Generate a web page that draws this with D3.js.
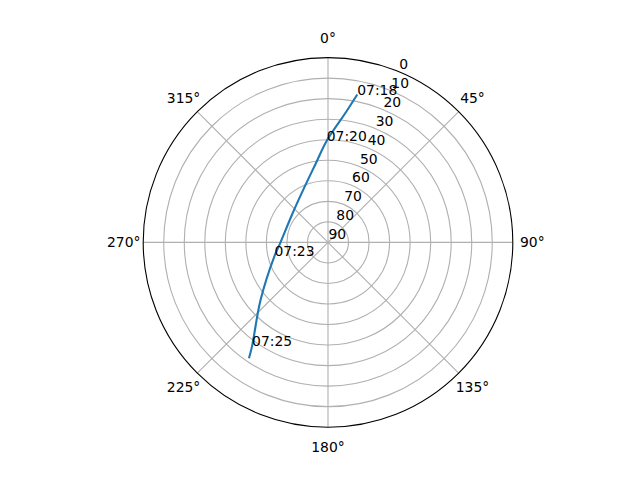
<!DOCTYPE html>
<html>
<head>
<meta charset="utf-8">
<script src="https://cdn.jsdelivr.net/npm/d3@7"></script>
<style>
  body { margin: 0; background: #fff; }
  text { font-family: "DejaVu Sans", sans-serif; font-size: 13.9px; fill: #000; }
</style>
</head>
<body>
<svg id="skyPlot"></svg>
<script>
// Satellite pass sky plot (azimuth / elevation)

// Pass track.
let azimuths   = [11.2, 7.9, 359.3, 351.2, 334.5, 309.2, 266.5, 255.7, 229.5, 216.2, 214.3];
let elevations = [16.6, 25.9, 40.5, 51.1, 61.8, 67.7, 66.2, 63.1, 46.8, 27.4, 21.7];
let timeLabels = ["07:18", "", "07:20", "", "", "", "", "07:23", "", "07:25", ""];

// Axis ticks.
let angleTicks = [0, 45, 90, 135, 180, 225, 270, 315];
let elevationTicks = [0, 10, 20, 30, 40, 50, 60, 70, 80, 90];
let radialLabelAngle = 22.5;

function drawSkyPlot(){
  let width = 640;
  let height = 480;
  let svg = d3.select('#skyPlot')
    .attr("width", width)
    .attr("height", height);

  // Same box matplotlib gives a polar subplot.
  let cx = 328;
  let cy = 242.4;
  let radius = 184.8;

  let g = svg.append('g')
    .attr("transform", `translate(${cx},${cy})`);

  // 90 at the centre, 0 on the rim.
  let rScale = d3.scaleLinear()
    .domain([90, 0])
    .range([0, radius]);
  let toRad = d => d * Math.PI / 180;

  // Elevation rings.
  g.selectAll('circle.ring')
    .data(elevationTicks.filter(d => d > 0 && d < 90))
    .join('circle')
    .attr("class", "ring")
    .attr("r", d => rScale(d))
    .attr("fill", "none")
    .attr("stroke", "#b0b0b0")
    .attr("stroke-width", 1.1);

  // Azimuth spokes.
  g.selectAll('line.spoke')
    .data(angleTicks)
    .join('line')
    .attr("class", "spoke")
    .attr("x1", 0)
    .attr("y1", 0)
    .attr("x2", d => rScale(0) * Math.sin(toRad(d)))
    .attr("y2", d => -rScale(0) * Math.cos(toRad(d)))
    .attr("stroke", "#b0b0b0")
    .attr("stroke-width", 1.1);

  // Outer rim.
  g.append('circle')
    .attr("r", rScale(0))
    .attr("fill", "none")
    .attr("stroke", "#000")
    .attr("stroke-width", 1.1);

  // Angle labels.
  let labelRadius = radius + 19.5;
  g.selectAll('text.angle')
    .data(angleTicks)
    .join('text')
    .attr("class", "angle")
    .attr("x", d => labelRadius * Math.sin(toRad(d)))
    .attr("y", d => -labelRadius * Math.cos(toRad(d)))
    .attr("dy", "0.36em")
    .attr("text-anchor", "middle")
    .text(d => d + "°");

  // Elevation labels along 22.5 degrees.
  g.selectAll('text.elev')
    .data(elevationTicks)
    .join('text')
    .attr("class", "elev")
    .attr("x", d => rScale(d) * Math.sin(toRad(radialLabelAngle)) + 0.5)
    .attr("y", d => -rScale(d) * Math.cos(toRad(radialLabelAngle)) - 3)
    .text(d => d);

  // Track.
  let track = azimuths.map((a, i) => ({az: a, el: elevations[i], label: timeLabels[i]}));
  let lineGenerator = d3.lineRadial()
    .angle(d => toRad(d.az))
    .radius(d => rScale(d.el))
    .curve(d3.curveCatmullRom.alpha(0.5));
  g.append('path')
    .datum(track)
    .attr("d", lineGenerator)
    .attr("fill", "none")
    .attr("stroke", "#1f77b4")
    .attr("stroke-width", 2.1);

  // Time labels, anchored at the point like matplotlib text.
  g.selectAll('text.time')
    .data(track.filter(d => d.label !== ""))
    .join('text')
    .attr("class", "time")
    .attr("x", d => rScale(d.el) * Math.sin(toRad(d.az)))
    .attr("y", d => -rScale(d.el) * Math.cos(toRad(d.az)))
    .text(d => d.label);
}

drawSkyPlot();
</script>
</body>
</html>
